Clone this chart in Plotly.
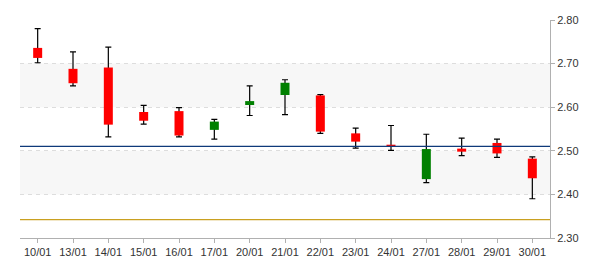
import plotly.graph_objects as go

dates = ["10/01", "13/01", "14/01", "15/01", "16/01", "17/01", "20/01", "21/01",
         "22/01", "23/01", "24/01", "27/01", "28/01", "29/01", "30/01"]
open_ = [2.736, 2.688, 2.691, 2.589, 2.591, 2.548, 2.605, 2.628,
         2.627, 2.540, 2.514, 2.435, 2.505, 2.518, 2.482]
close = [2.713, 2.655, 2.560, 2.569, 2.535, 2.567, 2.614, 2.656,
         2.544, 2.521, 2.510, 2.504, 2.498, 2.494, 2.437]
high = [2.780, 2.727, 2.738, 2.604, 2.599, 2.572, 2.649, 2.663,
        2.629, 2.552, 2.558, 2.538, 2.529, 2.527, 2.486]
low = [2.702, 2.649, 2.532, 2.561, 2.532, 2.527, 2.581, 2.583,
       2.540, 2.506, 2.501, 2.427, 2.489, 2.485, 2.390]

ref_blue = 2.5102
ref_gold = 2.3420
y_ticks = [2.30, 2.40, 2.50, 2.60, 2.70, 2.80]
bands = [(2.40, 2.50), (2.60, 2.70)]

fig = go.Figure()

# whiskers with caps
fig.add_trace(go.Scatter(
    x=dates, y=low, mode="markers",
    marker=dict(size=0.1, color="rgba(0,0,0,0)"),
    error_y=dict(type="data", symmetric=False,
                 array=[h - l for h, l in zip(high, low)],
                 arrayminus=[0] * len(low),
                 color="black", thickness=1.2, width=3),
    hoverinfo="skip", showlegend=False))

# bodies
def body_xy(pred):
    xs, ys = [], []
    for d, o, c in zip(dates, open_, close):
        if pred(o, c):
            xs += [d, d, None]
            ys += [o, c, None]
    return xs, ys

for pred, col in [(lambda o, c: c < o, "#ff0000"), (lambda o, c: c >= o, "#008000")]:
    xs, ys = body_xy(pred)
    fig.add_trace(go.Scatter(x=xs, y=ys, mode="lines",
                             line=dict(color=col, width=9),
                             connectgaps=False, hoverinfo="skip", showlegend=False))

shapes = []
for y0, y1 in bands:
    shapes.append(dict(type="rect", xref="paper", yref="y", x0=0, x1=1, y0=y0, y1=y1,
                       fillcolor="#f7f7f7", line=dict(width=0), layer="below"))
shapes.append(dict(type="line", xref="paper", yref="y", x0=0, x1=1, y0=ref_blue, y1=ref_blue,
                   line=dict(color="#0f3a7a", width=1.2), layer="above"))
shapes.append(dict(type="line", xref="paper", yref="y", x0=0, x1=1, y0=ref_gold, y1=ref_gold,
                   line=dict(color="#c9a020", width=1.2), layer="above"))

fig.update_layout(
    width=600, height=270,
    margin=dict(l=20, r=50, t=20, b=30),
    paper_bgcolor="white", plot_bgcolor="white",
    shapes=shapes,
    font=dict(family="Liberation Sans, Arial, sans-serif", size=11, color="#333"),
    xaxis=dict(type="category", categoryorder="array", categoryarray=dates,
               range=[-0.5, len(dates) - 0.5],
               showgrid=False, showline=True, linecolor="#b0b0b0", linewidth=1,
               ticks="outside", ticklen=4, tickcolor="#b0b0b0",
               tickfont=dict(size=11, color="#333"), fixedrange=True),
    yaxis=dict(side="right", range=[2.30, 2.80], tickvals=y_ticks,
               ticktext=[f"{v:.2f}" for v in y_ticks],
               showgrid=True, gridcolor="#dddddd", griddash="4px,4px", gridwidth=1,
               showline=True, linecolor="#b0b0b0", linewidth=1, zeroline=False,
               ticks="outside", ticklen=4, tickcolor="#b0b0b0",
               tickfont=dict(size=11, color="#333"), fixedrange=True),
)

fig.write_html("out.html")
